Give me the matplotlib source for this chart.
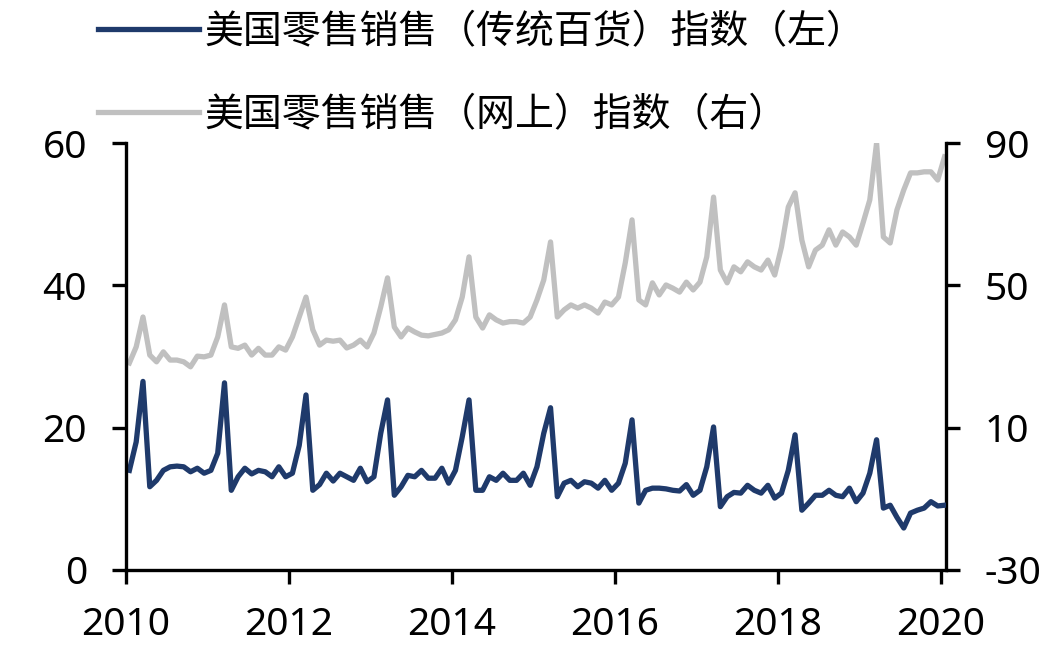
import numpy as np
import matplotlib
matplotlib.use("Agg")
import matplotlib.pyplot as plt

plt.rcParams['font.family'] = ['Noto Sans', 'Noto Sans CJK SC', 'DejaVu Sans']
plt.rcParams['axes.unicode_minus'] = False

# 月度数据：2010-01 至 2020-01
months = np.arange(121)

# 美国零售销售（传统百货）指数（左轴）
traditional = [
    14.0, 18.0, 26.5, 11.7, 12.6, 14.0, 14.5, 14.6, 14.5, 13.8, 14.3, 13.6,
    14.0, 16.4, 26.3, 11.2, 13.1, 14.3, 13.5, 14.0, 13.8, 13.1, 14.5, 13.1,
    13.6, 17.5, 24.6, 11.2, 12.0, 13.6, 12.5, 13.6, 13.1, 12.6, 14.3, 12.4,
    13.1, 19.2, 23.9, 10.5, 11.7, 13.3, 13.1, 14.0, 12.9, 12.9, 14.3, 12.2,
    14.0, 18.7, 23.9, 11.2, 11.2, 13.1, 12.6, 13.6, 12.6, 12.6, 13.6, 11.9,
    14.5, 19.2, 22.8, 10.3, 12.2, 12.6, 11.7, 12.4, 12.2, 11.5, 12.6, 11.2,
    12.2, 15.0, 21.1, 9.4, 11.2, 11.5, 11.5, 11.4, 11.2, 11.1, 12.0, 10.5,
    11.2, 14.5, 20.1, 8.9, 10.3, 10.9, 10.8, 11.9, 11.2, 10.8, 11.9, 10.1,
    10.8, 14.0, 19.0, 8.4, 9.4, 10.5, 10.5, 11.2, 10.5, 10.3, 11.5, 9.6,
    10.8, 13.6, 18.3, 8.7, 9.1, 7.4, 5.9, 8.0, 8.4, 8.7, 9.6, 9.0,
    9.1,
]

# 美国零售销售（网上）指数（右轴）
online = [
    28.2, 32.7, 41.1, 30.4, 28.5, 31.3, 29.0, 29.0, 28.5, 27.1, 30.1, 29.9,
    30.4, 35.5, 44.5, 32.7, 32.3, 33.2, 30.4, 32.3, 30.4, 30.4, 32.7, 31.8,
    35.5, 41.1, 46.7, 37.5, 33.2, 34.6, 34.3, 34.6, 32.4, 33.2, 34.6, 32.7,
    36.6, 43.9, 52.1, 38.3, 35.5, 38.0, 36.9, 36.0, 35.8, 36.2, 36.6, 37.5,
    40.3, 46.7, 58.0, 41.1, 38.0, 41.7, 40.3, 39.4, 39.8, 39.8, 39.4, 41.1,
    45.9, 51.5, 62.2, 41.1, 43.1, 44.5, 43.6, 44.5, 43.6, 42.2, 45.3, 44.5,
    46.7, 56.3, 68.4, 45.9, 44.5, 50.7, 47.3, 50.1, 49.2, 48.1, 50.9, 48.7,
    50.9, 58.0, 74.8, 54.3, 50.7, 55.2, 53.8, 56.6, 55.2, 54.3, 57.1, 52.9,
    60.8, 72.0, 76.0, 62.7, 55.2, 59.9, 61.3, 65.6, 61.3, 65.0, 63.6, 61.3,
    67.5, 74.0, 90.0, 63.6, 61.9, 71.2, 76.8, 81.6, 81.6, 81.9, 81.9, 79.6,
    86.1,
]

label_trad = "美国零售销售（传统百货）指数（左）"
label_online = "美国零售销售（网上）指数（右）"

x = 2010 + (months + 0.5) / 12

fig = plt.figure(figsize=(10.61, 6.72), dpi=100)
ax = fig.add_axes([126 / 1061, 1 - 570 / 672, 820 / 1061, 427 / 672])
ax2 = ax.twinx()

l1, = ax.plot(x, traditional, color="#1f3a6b", linewidth=3.8, solid_joinstyle="round")
l2, = ax2.plot(x, online, color="#c0c0c0", linewidth=3.8, solid_joinstyle="round")
ax.set_zorder(ax2.get_zorder() + 1)
ax.patch.set_visible(False)

ax.set_xlim(2010, 2020.06)
ax.set_ylim(0, 60)
ax2.set_ylim(-30, 90)
ax.set_xticks([2010, 2012, 2014, 2016, 2018, 2020])
ax.set_yticks([0, 20, 40, 60])
ax2.set_yticks([-30, 10, 50, 90])

for a in (ax, ax2):
    a.spines['top'].set_visible(False)
    for s in ('left', 'right', 'bottom'):
        a.spines[s].set_linewidth(2.4)
    a.tick_params(width=2.4, length=10, labelsize=28, direction='out', pad=18)
ax.spines['right'].set_visible(False)
ax2.spines['left'].set_visible(False)
ax2.spines['bottom'].set_visible(False)
ax.tick_params(axis='x', pad=16)

fig.legend([l1, l2], [label_trad, label_online],
           loc='upper left', bbox_to_anchor=(98 / 1061, 1 - 12 / 672),
           frameon=False, handlelength=2.6, handletextpad=0.15,
           labelspacing=1.1, borderpad=0, borderaxespad=0,
           prop={'family': ['Noto Sans CJK SC', 'DejaVu Sans'], 'size': 28})

plt.savefig("out.png", dpi=100)
